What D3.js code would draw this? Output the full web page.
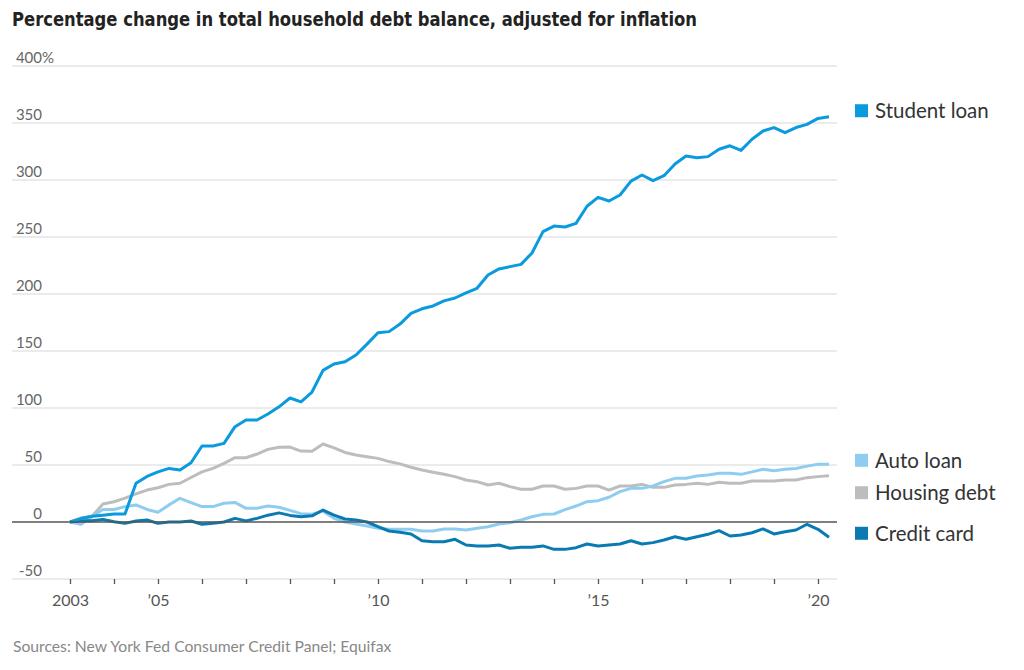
<!DOCTYPE html>
<html>
<head>
<meta charset="utf-8">
<script src="https://cdn.jsdelivr.net/npm/d3@7"></script>
<style>
  body { margin: 0; background: #fff; }
  svg { display: block; }
  text { font-family: Lato, "Open Sans", sans-serif; }
</style>
</head>
<body>
<svg id="viz" width="1024" height="670"></svg>
<script>
// quarterly series, 2003 Q1 through 2020 Q2 (percent change since 2003 Q1)
let startYear = 2003;

let studentLoan = [0, 3, 5, 6, 7, 7, 34, 40, 44, 47, 45.6, 52, 66.7, 66.7, 69, 83.6, 89.5, 89.5, 94.7, 101,
	108.8, 105.3, 114, 133, 138.6, 140.6, 146.5, 156, 166, 167, 173.6, 183, 187, 189.5, 194, 196.5, 201, 205, 216.7, 222,
	224, 226, 236, 254.7, 259.6, 258.8, 262, 277, 284.8, 281.6, 286.8, 299, 304.4, 299.4, 303.8, 314, 321, 319.6, 320.5, 327,
	330, 326, 335.7, 343, 346, 341.5, 346, 348.8, 354, 355.5];

let autoLoan = [0, -2, 4.6, 11, 11, 13.5, 15, 11, 8.5, 15, 20.8, 17, 13.5, 13.5, 16.4, 17.2, 12, 12, 14, 12.9,
	10.2, 7.3, 6.9, 9.5, 3.2, 0, -1.8, -3.5, -5.5, -6.4, -6.4, -6.4, -7.9, -7.9, -6.1, -6.1, -7, -5.5, -4.1, -1.8,
	-0.6, 1.8, 4.6, 6.7, 7, 10.8, 14, 17.8, 18.7, 21.7, 26.6, 29.5, 29.5, 31.6, 35.4, 38.3, 38.3, 40.4, 41.2, 42.7,
	42.7, 41.8, 44, 46.2, 45, 46.2, 47, 49, 50.6, 50.6];

let housingDebt = [0, 3.5, 5, 15.8, 17.8, 21, 24.6, 28, 30, 33, 34, 39, 44, 47, 51.5, 56.4, 56.4, 59.6, 63.7, 65.5,
	65.7, 62.2, 62, 68.4, 65, 61, 58.8, 57.3, 55.8, 53, 51, 48, 45.6, 43.6, 41.8, 39.8, 36.8, 35.4, 32.5, 34,
	31, 28.7, 28.7, 31.6, 31.6, 28.7, 29.5, 31.6, 31.6, 28, 31.6, 31.6, 33, 30.4, 30.4, 32.5, 33, 34, 33, 34.8,
	34, 34, 36, 36, 36, 36.8, 36.8, 38.9, 39.8, 40.6];

let creditCard = [0, 1, 1, 2.3, 0.3, -1.2, 0.9, 1.8, -1.2, 0, 0, 0.9, -2, -1.2, 0, 3.2, 1, 3.2, 6, 8,
	5.8, 4.6, 5.4, 10.5, 6, 2.6, 1.8, 0, -4.1, -7.9, -9, -10.5, -16.4, -17.3, -17.3, -15.2, -20.2, -21, -21, -20.2,
	-23, -22.2, -22.2, -21, -24, -24, -22.5, -19.3, -21, -20.2, -19.3, -16.4, -19.3, -18.1, -15.8, -12.9, -15.2, -12.9, -10.8, -7.6,
	-12.3, -11.4, -9.4, -6.1, -10.5, -8.5, -7, -2, -6.4, -13.4];

let seriesNames = ["Student loan", "Auto loan", "Housing debt", "Credit card"];
let seriesData = [studentLoan, autoLoan, housingDebt, creditCard];
let seriesColors = ["#0a9ade", "#8fcdf0", "#bdbdbd", "#0a7bb2"];
// draw order: grey and light lines beneath the blues
let drawOrder = [2, 1, 3, 0];

let yTicks = [-50, 0, 50, 100, 150, 200, 250, 300, 350, 400];
let xTicks = d3.range(2003, 2021);
let xLabels = {2003: "2003", 2005: "\u201905", 2010: "\u201910", 2015: "\u201915", 2020: "\u201920"};

let titleText = "Percentage change in total household debt balance, adjusted for inflation";
let sourceText = "Sources: New York Fed Consumer Credit Panel; Equifax";

// legend nudges (px) relative to each line's last point
let labelNudge = [-6, -4, 17, -4];

function app() {
	let svg = d3.select('#viz');

	let x = d3.scaleLinear().domain([2003, 2020]).range([70, 818]);
	let y = d3.scaleLinear().domain([-50, 400]).range([579, 66]);
	let gridLeft = 12, gridRight = 837;

	// title, squeezed to the reference width (condensed look)
	svg.append('text')
		.attr('x', 12)
		.attr('y', 26)
		.attr('fill', '#222')
		.attr('textLength', 685)
		.attr('lengthAdjust', 'spacingAndGlyphs')
		.style('font-family', '"DejaVu Sans", sans-serif')
		.style('font-weight', 'bold')
		.style('font-size', '19.5px')
		.text(titleText);

	// horizontal grid
	svg.append('g')
		.selectAll('line')
		.data(yTicks.filter(d => d !== 0))
		.enter()
		.append('line')
		.attr('x1', gridLeft)
		.attr('x2', gridRight)
		.attr('y1', d => y(d))
		.attr('y2', d => y(d))
		.attr('stroke', '#e4e4e4')
		.attr('stroke-width', 1.3);

	// y labels
	svg.append('g')
		.selectAll('text')
		.data(yTicks)
		.enter()
		.append('text')
		.attr('x', 42)
		.attr('y', d => y(d) - 3.5)
		.attr('text-anchor', 'end')
		.attr('fill', '#666')
		.style('font-size', '15px')
		.text(d => d);
	svg.append('text')
		.attr('x', 42)
		.attr('y', y(400) - 3.5)
		.attr('fill', '#666')
		.style('font-size', '15px')
		.text('%');

	// x axis
	let xAxis = d3.axisBottom(x)
		.tickValues(xTicks)
		.tickSize(5)
		.tickFormat(d => xLabels[d] || '');
	let gx = svg.append('g')
		.attr('transform', 'translate(0,' + y(-50) + ')')
		.call(xAxis);
	gx.select('.domain').remove();
	gx.selectAll('.tick line').attr('stroke', '#555').attr('stroke-width', 1.3);
	gx.selectAll('.tick text')
		.attr('y', 16)
		.attr('dy', '0.71em')
		.attr('fill', '#555')
		.style('font-family', 'Lato, sans-serif')
		.style('font-size', '16px');

	// lines
	let line = d3.line()
		.x((d, i) => x(startYear + i * 0.25))
		.y(d => y(d));

	svg.append('g')
		.selectAll('path')
		.data(drawOrder)
		.enter()
		.append('path')
		.attr('d', k => line(seriesData[k]))
		.attr('fill', 'none')
		.attr('stroke', k => seriesColors[k])
		.attr('stroke-width', 3)
		.attr('stroke-linejoin', 'round');

	// zero line over everything
	svg.append('line')
		.attr('x1', gridLeft)
		.attr('x2', gridRight)
		.attr('y1', y(0))
		.attr('y2', y(0))
		.attr('stroke', '#555')
		.attr('stroke-width', 1.5);

	// legend next to line ends
	let leg = svg.append('g')
		.selectAll('g')
		.data(seriesNames)
		.enter()
		.append('g')
		.attr('transform', (d, i) => {
			let s = seriesData[i];
			return 'translate(855,' + (y(s[s.length - 1]) + labelNudge[i]) + ')';
		});
	leg.append('rect')
		.attr('x', 0)
		.attr('y', -6.5)
		.attr('width', 13)
		.attr('height', 13)
		.attr('fill', (d, i) => seriesColors[i]);
	leg.append('text')
		.attr('x', 20)
		.attr('dy', '0.36em')
		.attr('fill', '#333')
		.style('font-size', '20.5px')
		.text(d => d);

	// source
	svg.append('text')
		.attr('x', 13)
		.attr('y', 652)
		.attr('fill', '#888')
		.style('font-size', '15.7px')
		.text(sourceText);
}

app();
</script>
</body>
</html>
